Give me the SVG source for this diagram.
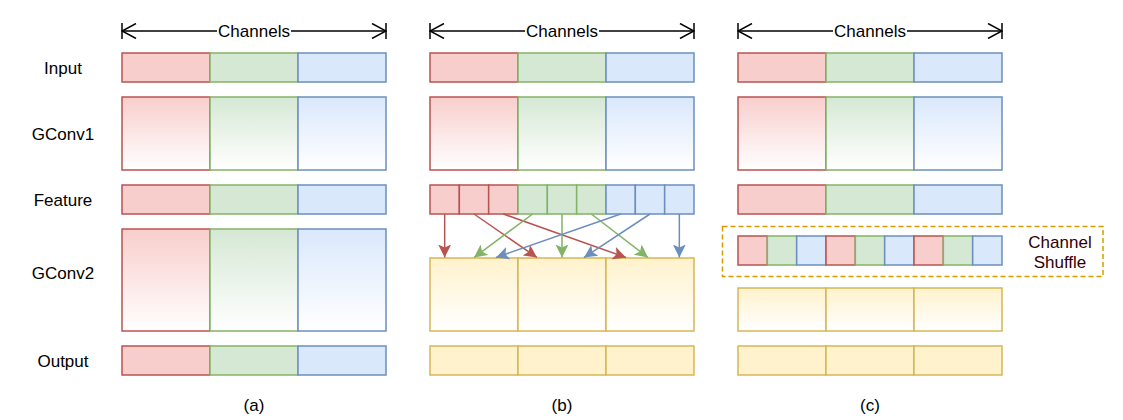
<svg xmlns="http://www.w3.org/2000/svg" width="1123" height="420" viewBox="0 0 1123 420">
<style>
text{font-family:"Liberation Sans",Arial,sans-serif;font-size:17px;fill:#000}
.lbl{text-anchor:middle}
.r{fill:#f8cecc;stroke:#b85450;stroke-width:1.5}
.g{fill:#d5e8d4;stroke:#82b366;stroke-width:1.5}
.b{fill:#dae8fc;stroke:#6c8ebf;stroke-width:1.5}
.y{fill:#fff2cc;stroke:#d6b656;stroke-width:1.5}
.rg{fill:url(#gR);stroke:#b85450;stroke-width:1.5}
.gg{fill:url(#gG);stroke:#82b366;stroke-width:1.5}
.bg{fill:url(#gB);stroke:#6c8ebf;stroke-width:1.5}
.yg{fill:url(#gY);stroke:#d6b656;stroke-width:1.5}
.dim{stroke:#000;stroke-width:1.5;fill:none}
.ar{stroke-width:1.5;fill:none}
</style>
<defs>
<linearGradient id="gR" x1="0" y1="0" x2="0" y2="1"><stop offset="0" stop-color="#f8cecc"/><stop offset="1" stop-color="#ffffff"/></linearGradient>
<linearGradient id="gG" x1="0" y1="0" x2="0" y2="1"><stop offset="0" stop-color="#d5e8d4"/><stop offset="1" stop-color="#ffffff"/></linearGradient>
<linearGradient id="gB" x1="0" y1="0" x2="0" y2="1"><stop offset="0" stop-color="#dae8fc"/><stop offset="1" stop-color="#ffffff"/></linearGradient>
<linearGradient id="gY" x1="0" y1="0" x2="0" y2="1"><stop offset="0" stop-color="#fff2cc"/><stop offset="1" stop-color="#ffffff"/></linearGradient>
<marker id="open" viewBox="0 0 16 16" markerWidth="16" markerHeight="16" refX="15" refY="8" orient="auto-start-reverse" markerUnits="userSpaceOnUse"><path d="M1,0.5 L15,8 L1,15.5" fill="none" stroke="#000" stroke-width="1.5"/></marker>
<marker id="aR" viewBox="0 0 13 13" markerWidth="13" markerHeight="13" refX="13" refY="6.5" orient="auto" markerUnits="userSpaceOnUse"><path d="M0,0 L13,6.5 L0,13 L3,6.5 Z" fill="#b85450"/></marker>
<marker id="aG" viewBox="0 0 13 13" markerWidth="13" markerHeight="13" refX="13" refY="6.5" orient="auto" markerUnits="userSpaceOnUse"><path d="M0,0 L13,6.5 L0,13 L3,6.5 Z" fill="#82b366"/></marker>
<marker id="aB" viewBox="0 0 13 13" markerWidth="13" markerHeight="13" refX="13" refY="6.5" orient="auto" markerUnits="userSpaceOnUse"><path d="M0,0 L13,6.5 L0,13 L3,6.5 Z" fill="#6c8ebf"/></marker>
</defs>
<rect width="1123" height="420" fill="#fff"/>

<g id="row-labels">
<text class="lbl" x="63" y="74">Input</text>
<text class="lbl" x="63" y="139.5">GConv1</text>
<text class="lbl" x="63" y="205.5">Feature</text>
<text class="lbl" x="63" y="279">GConv2</text>
<text class="lbl" x="63" y="366.5">Output</text>
</g>

<g id="channels-a">
<line class="dim" x1="122" y1="31" x2="386" y2="31" marker-start="url(#open)" marker-end="url(#open)"/>
<line class="dim" x1="122" y1="23" x2="122" y2="39"/><line class="dim" x1="386" y1="23" x2="386" y2="39"/>
<rect x="217" y="22" width="74" height="18" fill="#fff"/>
<text class="lbl" x="254" y="37">Channels</text>
</g>
<g id="channels-b">
<line class="dim" x1="430" y1="31" x2="694" y2="31" marker-start="url(#open)" marker-end="url(#open)"/>
<line class="dim" x1="430" y1="23" x2="430" y2="39"/><line class="dim" x1="694" y1="23" x2="694" y2="39"/>
<rect x="525" y="22" width="74" height="18" fill="#fff"/>
<text class="lbl" x="562" y="37">Channels</text>
</g>
<g id="channels-c">
<line class="dim" x1="738" y1="31" x2="1002" y2="31" marker-start="url(#open)" marker-end="url(#open)"/>
<line class="dim" x1="738" y1="23" x2="738" y2="39"/><line class="dim" x1="1002" y1="23" x2="1002" y2="39"/>
<rect x="833" y="22" width="74" height="18" fill="#fff"/>
<text class="lbl" x="870" y="37">Channels</text>
</g>

<!-- column (a) -->
<g id="a-input"><rect class="r" x="122" y="53" width="88" height="29"/><rect class="g" x="210" y="53" width="88" height="29"/><rect class="b" x="298" y="53" width="88" height="29"/></g>
<g id="a-gconv1"><rect class="rg" x="122" y="97" width="88" height="73"/><rect class="gg" x="210" y="97" width="88" height="73"/><rect class="bg" x="298" y="97" width="88" height="73"/></g>
<g id="a-feature"><rect class="r" x="122" y="185" width="88" height="29"/><rect class="g" x="210" y="185" width="88" height="29"/><rect class="b" x="298" y="185" width="88" height="29"/></g>
<g id="a-gconv2"><rect class="rg" x="122" y="229" width="88" height="102"/><rect class="gg" x="210" y="229" width="88" height="102"/><rect class="bg" x="298" y="229" width="88" height="102"/></g>
<g id="a-output"><rect class="r" x="122" y="346" width="88" height="29"/><rect class="g" x="210" y="346" width="88" height="29"/><rect class="b" x="298" y="346" width="88" height="29"/></g>
<text class="lbl" x="254" y="411">(a)</text>

<!-- column (b) -->
<g id="b-input"><rect class="r" x="430" y="53" width="88" height="29"/><rect class="g" x="518" y="53" width="88" height="29"/><rect class="b" x="606" y="53" width="88" height="29"/></g>
<g id="b-gconv1"><rect class="rg" x="430" y="97" width="88" height="73"/><rect class="gg" x="518" y="97" width="88" height="73"/><rect class="bg" x="606" y="97" width="88" height="73"/></g>
<g id="b-feature">
<rect class="r" x="430" y="185" width="29.33" height="29"/><rect class="r" x="459.33" y="185" width="29.33" height="29"/><rect class="r" x="488.67" y="185" width="29.33" height="29"/>
<rect class="g" x="518" y="185" width="29.33" height="29"/><rect class="g" x="547.33" y="185" width="29.33" height="29"/><rect class="g" x="576.67" y="185" width="29.33" height="29"/>
<rect class="b" x="606" y="185" width="29.33" height="29"/><rect class="b" x="635.33" y="185" width="29.33" height="29"/><rect class="b" x="664.67" y="185" width="29.33" height="29"/>
</g>
<g id="b-gconv2"><rect class="yg" x="430" y="258" width="88" height="73"/><rect class="yg" x="518" y="258" width="88" height="73"/><rect class="yg" x="606" y="258" width="88" height="73"/></g>
<g id="b-output"><rect class="y" x="430" y="346" width="88" height="29"/><rect class="y" x="518" y="346" width="88" height="29"/><rect class="y" x="606" y="346" width="88" height="29"/></g>
<text class="lbl" x="562" y="411">(b)</text>

<g id="connectors">
<line class="ar" stroke="#b85450" x1="444.67" y1="214" x2="444.67" y2="257.5" marker-end="url(#aR)"/>
<line class="ar" stroke="#b85450" x1="474" y1="214" x2="537" y2="257.5" marker-end="url(#aR)"/>
<line class="ar" stroke="#b85450" x1="503.33" y1="214" x2="626" y2="257.5" marker-end="url(#aR)"/>
<line class="ar" stroke="#82b366" x1="532.67" y1="214" x2="474" y2="257.5" marker-end="url(#aG)"/>
<line class="ar" stroke="#82b366" x1="562" y1="214" x2="562" y2="257.5" marker-end="url(#aG)"/>
<line class="ar" stroke="#82b366" x1="591.33" y1="214" x2="648" y2="257.5" marker-end="url(#aG)"/>
<line class="ar" stroke="#6c8ebf" x1="620.67" y1="214" x2="496" y2="257.5" marker-end="url(#aB)"/>
<line class="ar" stroke="#6c8ebf" x1="650" y1="214" x2="584" y2="257.5" marker-end="url(#aB)"/>
<line class="ar" stroke="#6c8ebf" x1="679.33" y1="214" x2="679.33" y2="257.5" marker-end="url(#aB)"/>
</g>

<!-- column (c) -->
<g id="c-input"><rect class="r" x="738" y="53" width="88" height="29"/><rect class="g" x="826" y="53" width="88" height="29"/><rect class="b" x="914" y="53" width="88" height="29"/></g>
<g id="c-gconv1"><rect class="rg" x="738" y="97" width="88" height="73"/><rect class="gg" x="826" y="97" width="88" height="73"/><rect class="bg" x="914" y="97" width="88" height="73"/></g>
<g id="c-feature"><rect class="r" x="738" y="185" width="88" height="29"/><rect class="g" x="826" y="185" width="88" height="29"/><rect class="b" x="914" y="185" width="88" height="29"/></g>
<g id="c-shuffle">
<rect x="722.5" y="226.5" width="380.5" height="50" fill="none" stroke="#d79b00" stroke-width="1.5" stroke-dasharray="5 3"/>
<rect class="r" x="738" y="236" width="29.33" height="29"/><rect class="g" x="767.33" y="236" width="29.33" height="29"/><rect class="b" x="796.67" y="236" width="29.33" height="29"/>
<rect class="r" x="826" y="236" width="29.33" height="29"/><rect class="g" x="855.33" y="236" width="29.33" height="29"/><rect class="b" x="884.67" y="236" width="29.33" height="29"/>
<rect class="r" x="914" y="236" width="29.33" height="29"/><rect class="g" x="943.33" y="236" width="29.33" height="29"/><rect class="b" x="972.67" y="236" width="29.33" height="29"/>
<text class="lbl" x="1060" y="248" style="fill:#330000">Channel</text>
<text class="lbl" x="1060" y="267.5" style="fill:#330000">Shuffle</text>
</g>
<g id="c-gconv2"><rect class="yg" x="738" y="288" width="88" height="43"/><rect class="yg" x="826" y="288" width="88" height="43"/><rect class="yg" x="914" y="288" width="88" height="43"/></g>
<g id="c-output"><rect class="y" x="738" y="346" width="88" height="29"/><rect class="y" x="826" y="346" width="88" height="29"/><rect class="y" x="914" y="346" width="88" height="29"/></g>
<text class="lbl" x="870" y="411">(c)</text>
</svg>
